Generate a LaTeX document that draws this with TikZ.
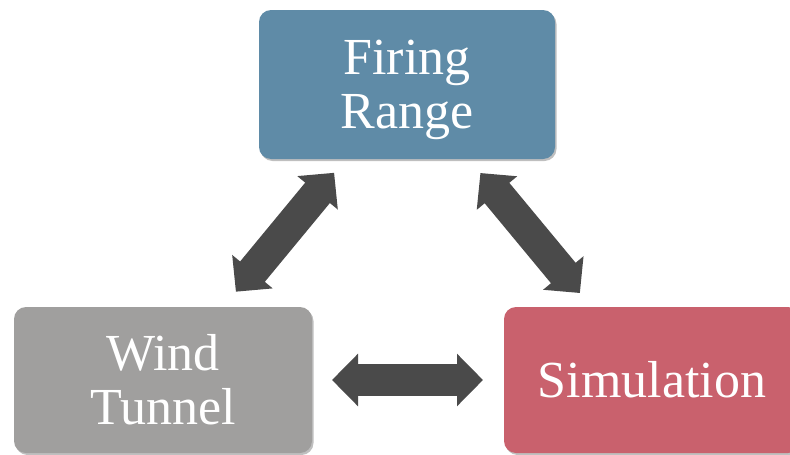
\documentclass[tikz,border=0pt]{standalone}
\usepackage{fontspec}
\setmainfont{Liberation Serif}
\usetikzlibrary{arrows.meta,shadows}
\definecolor{rangeblue}{HTML}{5F8BA7}
\definecolor{tunnelgray}{HTML}{A09F9E}
\definecolor{simred}{HTML}{C9616D}
\definecolor{arrowgray}{HTML}{4A4A4A}
\begin{document}
\begin{tikzpicture}[x=1pt,y=-1pt,
  block/.style={rounded corners=12pt, inner sep=0pt, text=white, align=center,
    font=\fontsize{52}{54}\selectfont,
    drop shadow={shadow xshift=1.5pt, shadow yshift=-2pt, opacity=0.25, fill=black}},
  link/.style={draw=arrowgray, line width=32pt,
    {Triangle[width=51pt,length=26pt]}-{Triangle[width=51pt,length=26pt]}}]
\useasboundingbox (0,0) rectangle (790,455);
% the three sources of data
\node[block, fill=rangeblue, minimum width=296pt, minimum height=149pt] (fr) at (407,84.5) {Firing\\\smash{Range}};
\node[block, fill=tunnelgray, minimum width=298pt, minimum height=146pt] (wt) at (163,380) {Wind\\Tunnel};
\node[block, fill=simred, minimum width=296pt, minimum height=146pt] (sim) at (652,380) {Simulation};
% two-way exchanges between them
\draw[link, shorten <=114.5pt, shorten >=114.5pt] (fr.center) -- (wt.center);
\draw[link, shorten <=115pt, shorten >=113pt] (fr.center) -- (sim.center);
\draw[link, shorten <=169pt, shorten >=169pt] (wt.center) -- (sim.center);
\end{tikzpicture}
\end{document}
